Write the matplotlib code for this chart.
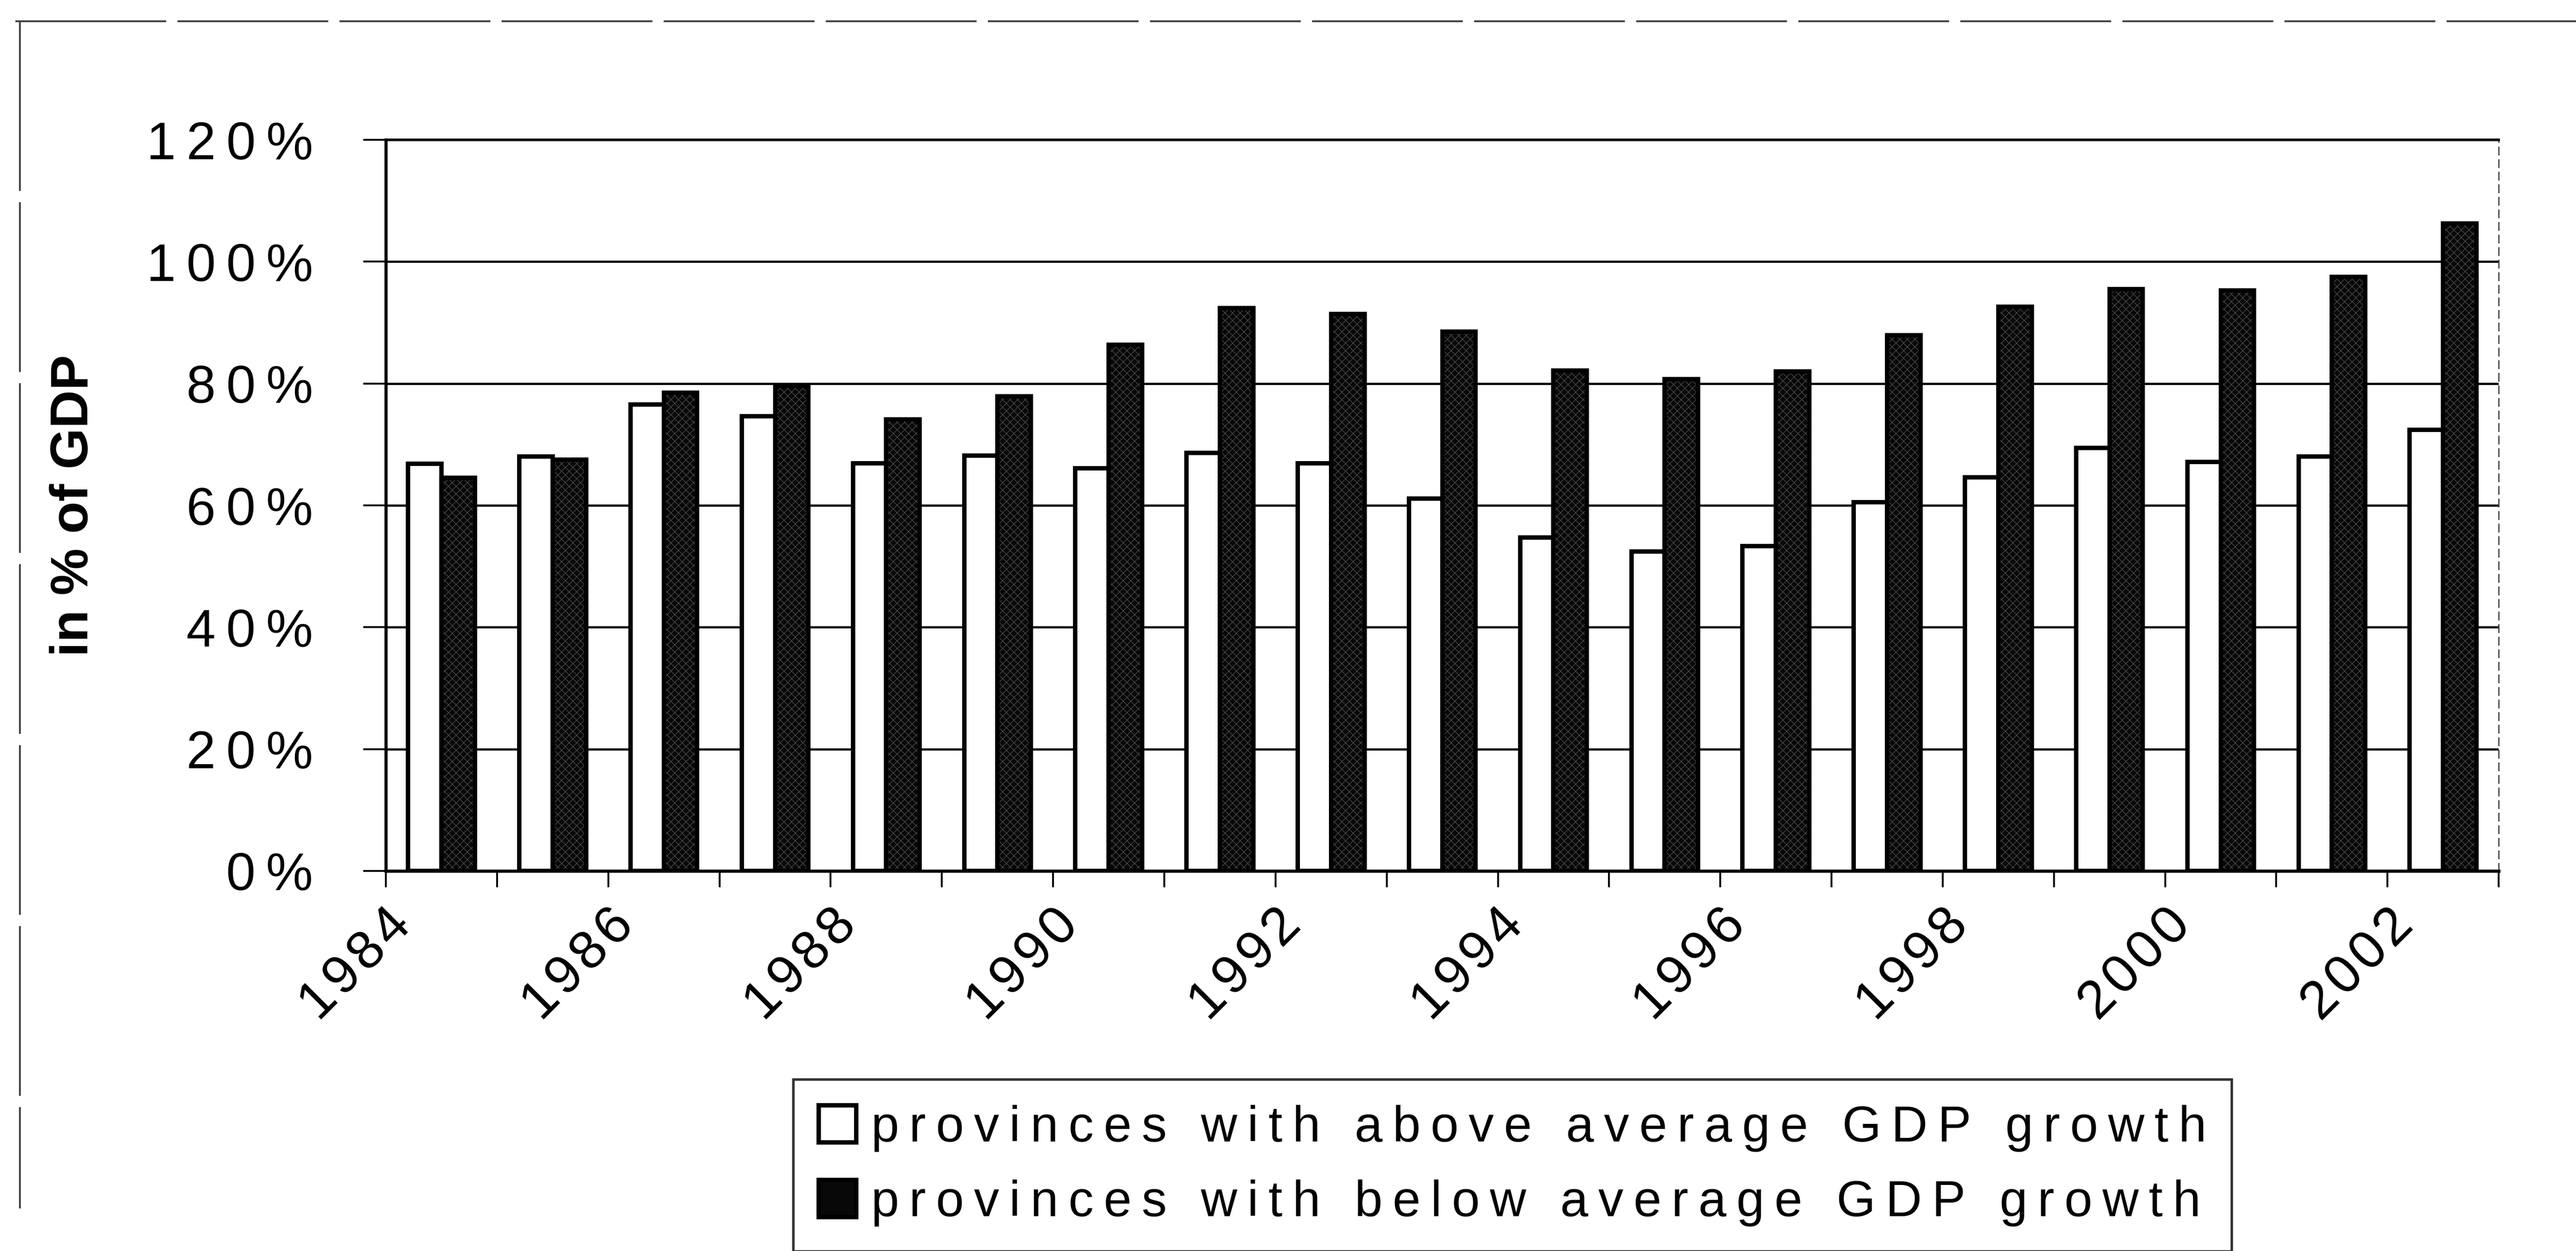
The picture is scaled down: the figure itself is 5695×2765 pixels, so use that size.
import numpy as np
import matplotlib
matplotlib.use('Agg')
import matplotlib.pyplot as plt
from matplotlib.ticker import FixedLocator, FuncFormatter
from matplotlib.lines import Line2D

plt.rcParams['font.family'] = ['Liberation Sans', 'DejaVu Sans']

years = list(range(1984, 2003))
above = [0.668, 0.680, 0.766, 0.746, 0.669, 0.682, 0.661, 0.686, 0.669, 0.611,
         0.547, 0.524, 0.533, 0.605, 0.646, 0.694, 0.671, 0.680, 0.724]
below = [0.645, 0.675, 0.785, 0.796, 0.741, 0.779, 0.864, 0.924, 0.914, 0.885,
         0.821, 0.807, 0.820, 0.879, 0.926, 0.955, 0.953, 0.975, 1.063]
y_ticks = [0, 0.2, 0.4, 0.6, 0.8, 1.0, 1.2]
labels = ['provinces with above average GDP growth',
          'provinces with below average GDP growth']

TS = '\u2009'  # thin space, mimics the wide letter spacing of the scan
HS = '\u200a'  # hair space


def spaced(s, sep=TS):
    return sep.join(s)


fig = plt.figure(figsize=(56.95, 27.65), dpi=100)
ax = fig.add_axes([0.1498, 0.3038, 0.8202, 0.5844])

x = np.arange(len(years)) + 0.5
w = 0.30

ax.bar(x - w / 2, above, w, color='white', edgecolor='black', linewidth=7, zorder=3)
# dark bars: speckled fill, then black outline on top
ax.bar(x + w / 2, below, w, color='#080808', edgecolor='#4a4a4a', hatch='xx',
       linewidth=0, zorder=3)
ax.bar(x + w / 2, below, w, fill=False, edgecolor='black', linewidth=7, zorder=4)

ax.set_xlim(0, len(years))
ax.set_ylim(0, 1.2)

ax.yaxis.set_major_locator(FixedLocator(y_ticks))
ax.yaxis.set_major_formatter(FuncFormatter(lambda v, p: spaced('%d%%' % round(v * 100))))
ax.grid(axis='y', color='black', linewidth=3.5, zorder=0)

ax.xaxis.set_major_locator(FixedLocator(np.arange(0, len(years), 2)))
ax.xaxis.set_minor_locator(FixedLocator(np.arange(1, len(years) + 1, 2)))
ax.set_xticklabels([spaced(str(y), HS) for y in years[::2]], rotation=45,
                   ha='right', va='top', rotation_mode='anchor')

ax.tick_params(axis='x', which='both', direction='out', length=26, width=3,
               color='black', pad=20, labelsize=86)
ax.tick_params(axis='y', direction='out', length=36, width=3, color='black',
               pad=80, labelsize=84)

for side in ['left', 'bottom']:
    ax.spines[side].set_linewidth(5)
ax.spines['top'].set_linewidth(4)
ax.spines['right'].set_linewidth(2)
ax.spines['right'].set_linestyle((0, (6, 4)))
ax.spines['right'].set_color('#444444')

fig.text(0.0287, 0.5960, 'in % of GDP', rotation=90, ha='center', va='center',
         fontsize=84, fontweight='bold')

handles = [plt.Rectangle((0, 0), 1, 1, facecolor='white', edgecolor='black', linewidth=7),
           plt.Rectangle((0, 0), 1, 1, facecolor='#080808', edgecolor='black', linewidth=7)]
leg = fig.legend(handles, [spaced(l) for l in labels], loc='upper left',
                 bbox_to_anchor=(0.308, 0.137), fontsize=80, frameon=True,
                 fancybox=False, handlelength=0.75, handleheight=0.75,
                 handletextpad=0.3, labelspacing=0.55, borderpad=0.5,
                 borderaxespad=0)
leg.get_frame().set_edgecolor('black')
leg.get_frame().set_linewidth(4)

# scanned page border
fig.add_artist(Line2D([0.006, 1.0], [0.983, 0.983], transform=fig.transFigure,
                      color='#444444', linewidth=3, linestyle=(0, (80, 6))))
fig.add_artist(Line2D([0.0077, 0.0077], [0.983, 0.034], transform=fig.transFigure,
                      color='#444444', linewidth=3, linestyle=(0, (90, 6))))

fig.savefig('out.png', dpi=100, facecolor='white')
